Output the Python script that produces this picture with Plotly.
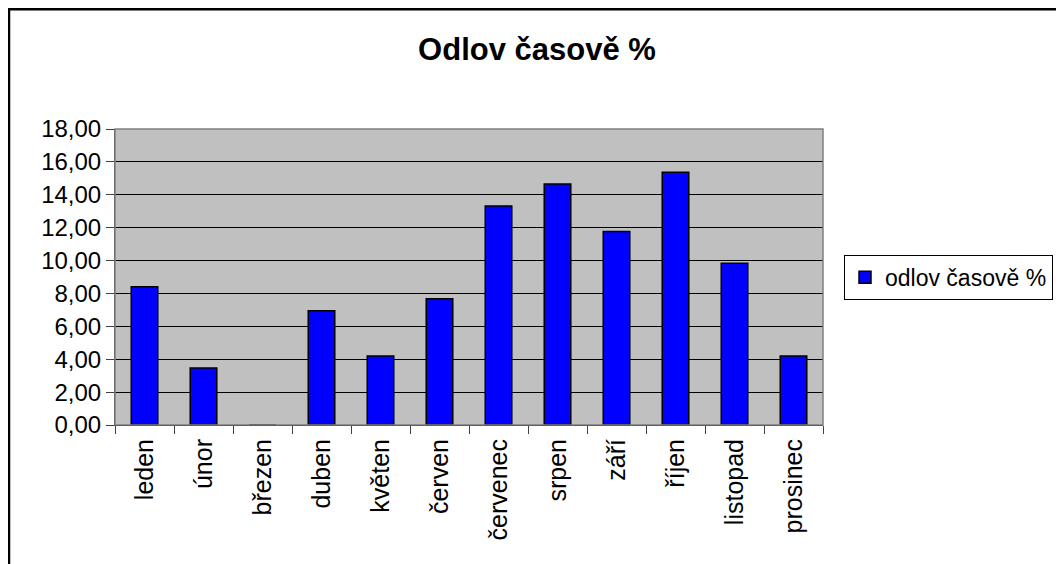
import plotly.graph_objects as go

months = ["leden", "únor", "březen", "duben", "květen", "červen",
          "červenec", "srpen", "září", "říjen", "listopad", "prosinec"]
values = [8.40, 3.47, 0.0, 6.95, 4.20, 7.68, 13.32, 14.66, 11.76, 15.37, 9.83, 4.20]
series_name = "odlov časově %"
title_text = "Odlov časově %"
y_ticks = [0, 2, 4, 6, 8, 10, 12, 14, 16, 18]
y_tick_labels = [f"{v:.2f}".replace(".", ",") for v in y_ticks]

OFF = 8  # page body margin offset
W, H = 1064 - OFF, 564 - OFF
# target screen pixel positions
SL, SR, ST, SB = 115, 823, 129, 425.5
L, T = SL - OFF, ST - OFF
R = W - (SR - OFF)
B = H - (SB - OFF)
pw, ph = W - L - R, H - T - B

def px_to_paper_x(x):
    return (x - OFF - L) / pw

def px_to_paper_y(y):
    return (H - B - (y - OFF)) / ph

font = "Liberation Sans, Arial, sans-serif"

fig = go.Figure()
fig.add_trace(go.Bar(
    x=months, y=values, name=series_name,
    marker=dict(color="#0000FF", line=dict(color="#000000", width=1.5)),
    showlegend=True,
))

fig.update_layout(
    width=W, height=H,
    margin=dict(l=L, r=R, t=T, b=B, pad=0, autoexpand=False),
    paper_bgcolor="white",
    plot_bgcolor="#C0C0C0",
    bargap=0.55,
    font=dict(family=font, size=24, color="black"),
    title=dict(text="<b>" + title_text + "</b>", x=(537 - OFF) / W, xanchor="center",
               y=1 - (49 - OFF) / H, yanchor="middle",
               font=dict(family=font, size=31, color="black")),
    showlegend=True,
    legend=dict(x=px_to_paper_x(844), y=px_to_paper_y(255), xanchor="left", yanchor="top",
                bordercolor="black", borderwidth=1, bgcolor="white",
                font=dict(family=font, size=23, color="black"),
                itemwidth=30, tracegroupgap=0),
    xaxis=dict(type="category", tickangle=-90, ticks="outside", ticklen=8,
               tickcolor="#404040", tickson="boundaries", showgrid=False,
               showline=True, linecolor="#000000", linewidth=1,
               ticklabelstandoff=3,
               tickfont=dict(family=font, size=25, color="black")),
    yaxis=dict(range=[0, 18], tickvals=y_ticks, ticktext=y_tick_labels,
               ticks="outside", ticklen=8, tickcolor="#404040",
               showgrid=True, gridcolor="#000000", gridwidth=1,
               showline=True, linecolor="#404040", linewidth=1,
               zeroline=False,
               tickfont=dict(family=font, size=24, color="black")),
    shapes=[
        dict(type="rect", xref="paper", yref="paper", x0=0, x1=1, y0=0, y1=1,
             line=dict(color="#808080", width=1.5), fillcolor="rgba(0,0,0,0)", layer="above"),
        dict(type="rect", xref="paper", yref="paper",
             x0=px_to_paper_x(9), x1=px_to_paper_x(1080),
             y0=px_to_paper_y(590), y1=px_to_paper_y(9),
             line=dict(color="#000000", width=2.5), fillcolor="rgba(0,0,0,0)"),
    ],
)

fig.write_html("out.html")
